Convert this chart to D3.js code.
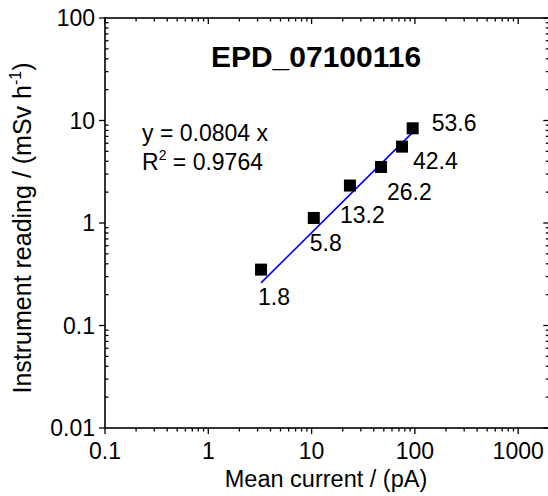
<!DOCTYPE html>
<html>
<head>
<meta charset="UTF-8">
<title>EPD_07100116</title>
<script src="https://cdn.jsdelivr.net/npm/d3@7/dist/d3.min.js"></script>
<style>
  body { margin: 0; background: #fff; }
  text { font-family: "Liberation Sans", Arial, sans-serif; fill: #000; }
</style>
</head>
<body>
<svg width="548" height="496"></svg>
<script>
// data
var current = [3.24, 10.5, 23.5, 47, 75, 95.2];      // pA
var reading = [0.351, 1.12, 2.32, 3.52, 5.56, 8.39]; // mSv/h
var doseLabels = ["1.8", "5.8", "13.2", "26.2", "42.4", "53.6"];
var slope = 0.0804;
var r2 = "0.9764";
var xTicks = [0.1, 1, 10, 100, 1000];
var yTicks = [0.01, 0.1, 1, 10, 100];

// label offsets (layout only)
var labelDx = [-3, -4, -10, 6, 11, 19];
var labelDy = [35, 33, 37, 33, 22, 3];

var svg = d3.select("svg");
var pLeft = 105, pTop = 18, pBottom = 428;

var x = d3.scaleLog().domain([0.1, 2000]).range([pLeft, pLeft + 4.301 * 103.3]);
var y = d3.scaleLog().domain([0.01, 100]).range([pBottom, pTop]);
var pRight = x(2000);

function minors(lo, hi) {
  var out = [];
  for (var p = Math.round(Math.log10(lo)); p < Math.log10(hi); p++) {
    for (var k = 2; k <= 9; k++) {
      var v = k * Math.pow(10, p);
      if (v < hi) out.push(v);
    }
  }
  return out;
}

var g = svg.append("g");

// frame
g.append("rect")
  .attr("x", pLeft).attr("y", pTop)
  .attr("width", pRight - pLeft).attr("height", pBottom - pTop)
  .attr("fill", "none").attr("stroke", "#000").attr("stroke-width", 1.6);

function ticks(sel, vals, len, side) {
  vals.forEach(function(v) {
    var l;
    if (side === "bottom") l = [x(v), pBottom, x(v), pBottom + len];
    if (side === "top") l = [x(v), pTop, x(v), pTop + len];
    if (side === "left") l = [pLeft, y(v), pLeft - len, y(v)];
    if (side === "right") l = [pRight, y(v), pRight - len, y(v)];
    sel.append("line")
      .attr("x1", l[0]).attr("y1", l[1]).attr("x2", l[2]).attr("y2", l[3])
      .attr("stroke", "#000").attr("stroke-width", 1.3);
  });
}
var xm = minors(0.1, 2000), ym = minors(0.01, 100);
ticks(g, xTicks, 6, "bottom"); ticks(g, xm, 3.5, "bottom");
ticks(g, xTicks, 6, "top"); ticks(g, xm, 3.5, "top");
ticks(g, yTicks, 6, "left"); ticks(g, ym, -3.5, "left");
ticks(g, yTicks, 6, "right"); ticks(g, ym, 3.5, "right");

// tick labels
g.selectAll(".xt").data(xTicks).enter().append("text")
  .attr("x", function(d) { return x(d); }).attr("y", pBottom + 31)
  .attr("text-anchor", "middle").attr("font-size", 23)
  .text(function(d) { return d; });
g.selectAll(".yt").data(yTicks).enter().append("text")
  .attr("x", pLeft - 10).attr("y", function(d) { return y(d) + 8; })
  .attr("text-anchor", "end").attr("font-size", 23)
  .text(function(d) { return d; });

// axis titles
svg.append("text")
  .attr("x", 326).attr("y", 487)
  .attr("text-anchor", "middle").attr("font-size", 23.5)
  .text("Mean current / (pA)");
var yl = svg.append("text")
  .attr("transform", "translate(31," + 228 + ") rotate(-90)")
  .attr("text-anchor", "middle").attr("font-size", 25);
yl.append("tspan").text("Instrument reading / (mSv h");
yl.append("tspan").attr("font-size", 16).attr("dy", -10).text("-1");
yl.append("tspan").attr("dy", 10).text(")");

// fit line
var x0 = d3.min(current), x1 = d3.max(current);
g.append("line")
  .attr("x1", x(x0)).attr("y1", y(slope * x0))
  .attr("x2", x(x1)).attr("y2", y(slope * x1))
  .attr("stroke", "#0000ff").attr("stroke-width", 1.6);

// points
var s = 12;
g.selectAll(".pt").data(current).enter().append("rect")
  .attr("x", function(d) { return x(d) - s / 2; })
  .attr("y", function(d, i) { return y(reading[i]) - s / 2; })
  .attr("width", s).attr("height", s)
  .attr("fill", "#000");

// dose labels
g.selectAll(".lb").data(doseLabels).enter().append("text")
  .attr("x", function(d, i) { return x(current[i]) + labelDx[i]; })
  .attr("y", function(d, i) { return y(reading[i]) + labelDy[i]; })
  .attr("font-size", 23)
  .text(function(d) { return d; });

// title and equation
svg.append("text")
  .attr("x", 316).attr("y", 67)
  .attr("text-anchor", "middle").attr("font-size", 30).attr("font-weight", "bold")
  .text("EPD_07100116");
svg.append("text")
  .attr("x", 142).attr("y", 141).attr("font-size", 23)
  .text("y = " + slope + " x");
var rt = svg.append("text").attr("x", 142).attr("y", 170).attr("font-size", 23);
rt.append("tspan").text("R");
rt.append("tspan").attr("font-size", 14).attr("dy", -10).text("2");
rt.append("tspan").attr("dy", 10).text(" = " + r2);
</script>
</body>
</html>
